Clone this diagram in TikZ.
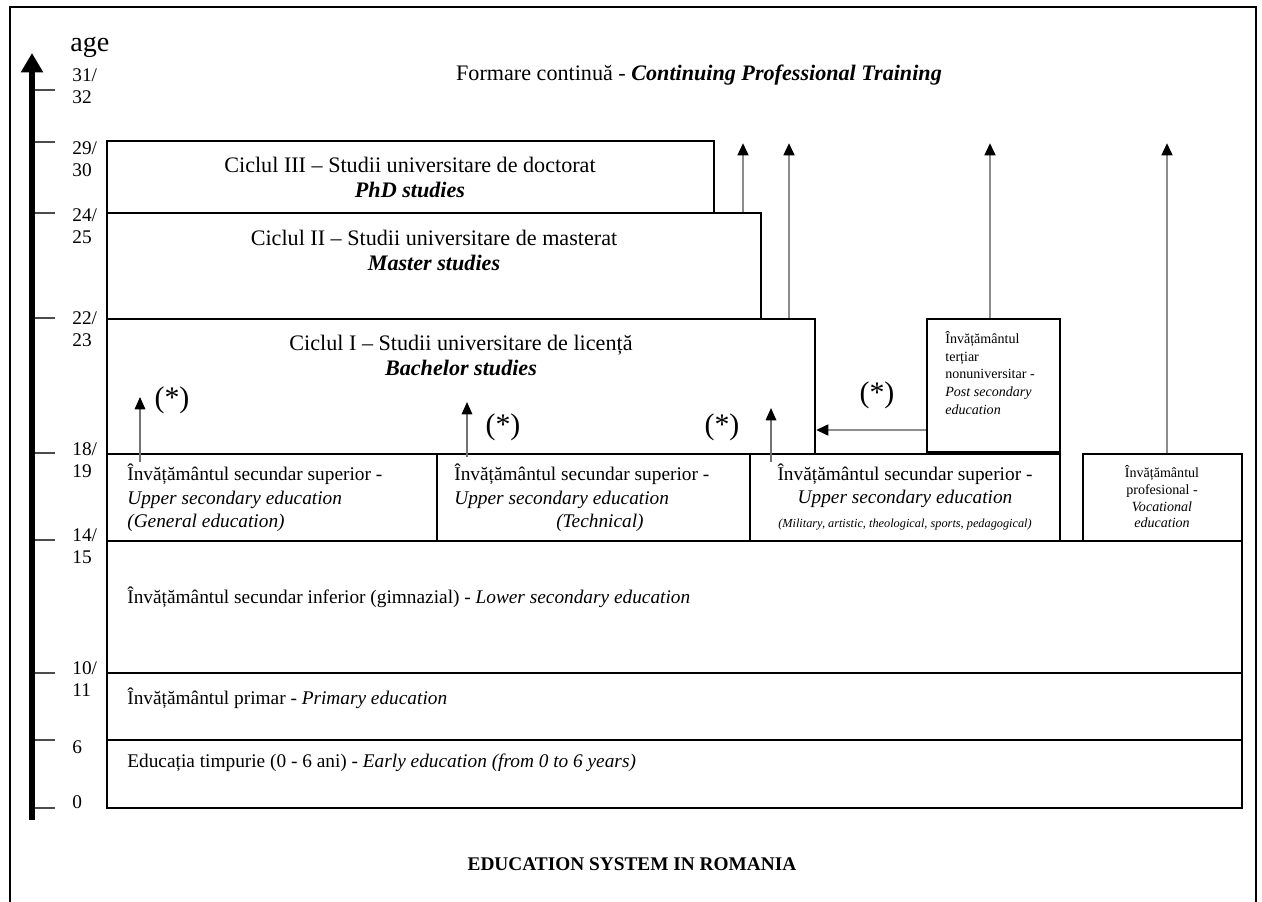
\documentclass[tikz,border=0pt]{standalone}
\usepackage{fontspec}
\setmainfont{Liberation Serif}
\usetikzlibrary{arrows.meta,fit}
\def\fs#1#2{\fontsize{#1}{#2}\selectfont}

\tikzset{
	box/.style={draw, line width=1.1pt, inner sep=0pt},
	txt/.style={inner sep=0pt, font=\fs{11}{13.3}},
	cycletxt/.style={inner sep=0pt, align=center, font=\fs{12.6}{14.2}},
	agelbl/.style={inner sep=0pt, anchor=west, align=left, font=\fs{11}{12.6}},
	agetick/.style={draw=black!70, line width=1.1pt},
	star/.style={inner sep=0pt, font=\fs{17}{19}},
	longarrow/.style={draw=black!45, line width=1.6pt, -{Triangle[black, length=7pt, width=6pt]}},
	shortarrow/.style={draw=black!55, line width=0.9pt, -{Triangle[black, length=7pt, width=6pt]}},
}

\begin{document}
\begin{tikzpicture}[x=0.02cm, y=-0.02cm]
		%%%%% START %%%%%
		\useasboundingbox (0,0) rectangle (1262,902);
		\draw[line width=1.1pt] (10,902) -- (10,7) -- (1256,7) -- (1256,902);
		
		% age axis
		\coordinate (axisbot) at (32,820);
		\coordinate (axistop) at (32,53);
		\draw[line width=3pt, -{Triangle[length=11pt, width=12pt]}] (axisbot) -- (axistop);
		\foreach \y in {90,142,213,318,453,540,673,740,808}
			\draw[agetick] (35,\y) -- (55,\y);
		
		\node[agelbl, font=\fs{16}{18}] (age) at (70,47) {age};
		\node[agelbl] (a31) at (72,86) {31/\\32};
		\node[agelbl] (a29) at (72,159) {29/\\30};
		\node[agelbl] (a24) at (72,226) {24/\\25};
		\node[agelbl] (a22) at (72,329) {22/\\23};
		\node[agelbl] (a18) at (72,460) {18/\\19};
		\node[agelbl] (a14) at (72,546) {14/\\15};
		\node[agelbl] (a10) at (72,679) {10/\\11};
		\node[agelbl] (a6) at (72,747) {6};
		\node[agelbl] (a0) at (72,802) {0};
		
		% boxes
		\node[box, fit={(107,141) (714,213)}] (phd) {};
		\node[box, fit={(107,213) (761,319)}] (master) {};
		\node[box, fit={(107,319) (815,454)}] (bachelor) {};
		\node[box, fit={(927,319) (1060,452)}] (postsec) {};
		\node[box, fit={(107,454) (437,541)}] (usgen) {};
		\node[box, fit={(437,454) (750,541)}] (ustech) {};
		\node[box, fit={(750,454) (1060,541)}] (usoth) {};
		\node[box, fit={(1083,454) (1242,541)}] (vocat) {};
		\node[box, fit={(107,541) (1242,673)}] (lowsec) {};
		\node[box, fit={(107,673) (1242,740)}] (primary) {};
		\node[box, fit={(107,740) (1242,808)}] (early) {};
		
		% texts
		\node[cycletxt] (cpt) at (699,75) {Formare continuă - \textbf{\textit{Continuing Professional Training}}};
		\node[cycletxt] (phdtxt) at (410,177) {Ciclul III – Studii universitare de doctorat\\\textbf{\textit{PhD studies}}};
		\node[cycletxt] (mastertxt) at (434,250) {Ciclul II – Studii universitare de masterat\\\textbf{\textit{Master studies}}};
		\node[cycletxt] (bachtxt) at (461,355) {Ciclul I – Studii universitare de licență\\\textbf{\textit{Bachelor studies}}};
		
		\node[txt, anchor=west, align=left] (usgentxt) at (127,498) {Învățământul secundar superior -\\\textit{Upper secondary education}\\\textit{(General education)}};
		\node[txt, anchor=west, align=left] (ustechtxt) at (454,498) {Învățământul secundar superior -\\\textit{Upper secondary education}\\\hspace*{58pt}\textit{(Technical)}};
		\node[txt, align=center] (usothtxt) at (905,497) {Învățământul secundar superior -\\\textit{Upper secondary education}\\{\fs{7}{8}\textit{(Military, artistic, theological, sports, pedagogical)}}};
		\node[inner sep=0pt, anchor=west, align=left, font=\fs{8}{10}] (posttxt) at (945,373) {Învățământul\\terțiar\\nonuniversitar -\\\textit{Post secondary}\\\textit{education}};
		\node[inner sep=0pt, align=center, font=\fs{8}{9.5}] (vocattxt) at (1162,497) {Învățământul\\profesional -\\\textit{Vocational}\\\textit{education}};
		
		\node[txt, anchor=west] (lowtxt) at (127,597) {Învățământul secundar inferior (gimnazial) - \textit{Lower secondary education}};
		\node[txt, anchor=west] (primtxt) at (127,698) {Învățământul primar - \textit{Primary education}};
		\node[txt, anchor=west] (earlytxt) at (127,763) {Educația timpurie (0 - 6 ani) - \textit{Early education (from 0 to 6 years)}};
		
		\node[inner sep=0pt, font=\fs{11}{13}\bfseries] (title) at (632,864) {EDUCATION SYSTEM IN ROMANIA};
		
		% arrows
		\coordinate (tipA) at (743,143);
		\coordinate (tipB) at (789,143);
		\coordinate (tipC) at (990,143);
		\coordinate (tipD) at (1167,143);
		\draw[longarrow] (master.north -| tipA) -- (tipA);
		\draw[longarrow] (bachelor.north -| tipB) -- (tipB);
		\draw[longarrow] (postsec.north -| tipC) -- (tipC);
		\draw[longarrow] (vocat.north -| tipD) -- (tipD);
		\coordinate (sideA) at (0,430);
		\draw[longarrow] (postsec.west |- sideA) -- (bachelor.east |- sideA);
		
		\coordinate (tipS1) at (140,397);
		\coordinate (tipS2) at (467,402);
		\coordinate (tipS3) at (771,408);
		\draw[shortarrow, shorten <=-5pt] (usgen.north -| tipS1) -- (tipS1);
		\draw[shortarrow, shorten <=-2pt] (ustech.north -| tipS2) -- (tipS2);
		\draw[shortarrow, shorten <=-5pt] (usoth.north -| tipS3) -- (tipS3);
		
		\node[star] (st1) at (172,400) {(*)};
		\node[star] (st2) at (503,427) {(*)};
		\node[star] (st3) at (722,427) {(*)};
		\node[star] (st4) at (877,395) {(*)};
		%%%%% END %%%%%
\end{tikzpicture}
\end{document}
